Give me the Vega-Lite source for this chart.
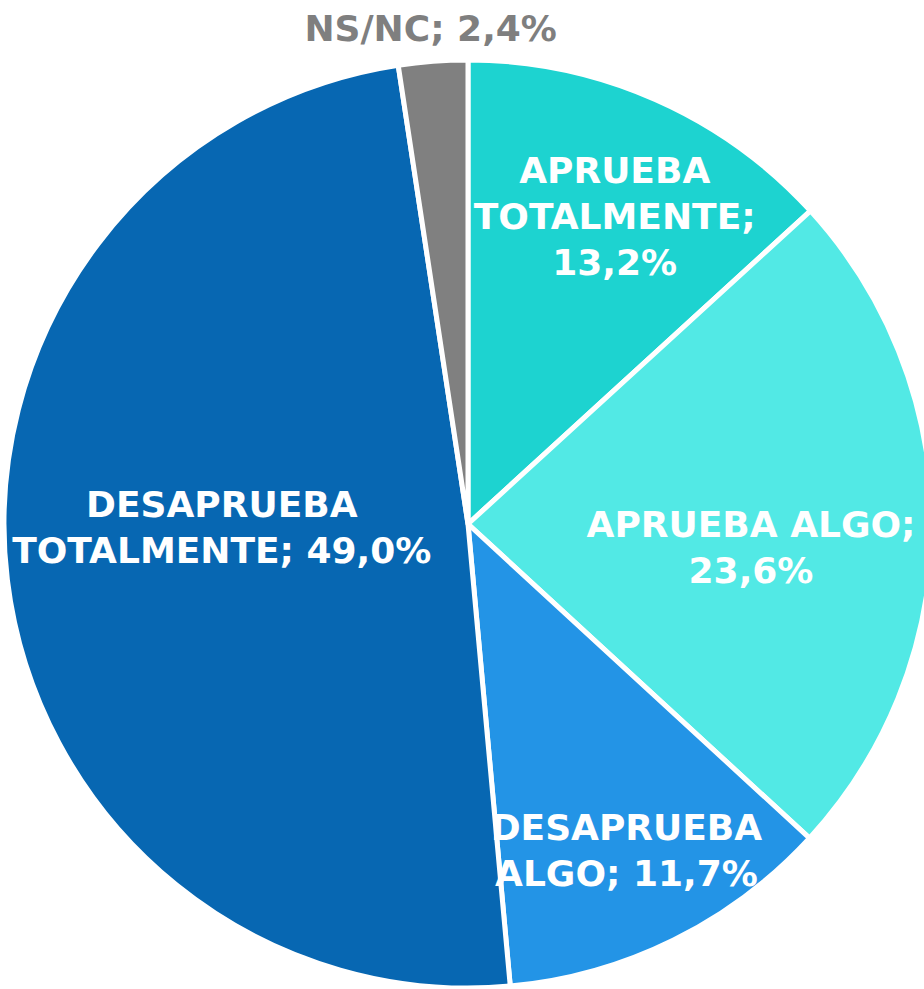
{
  "$schema": "https://vega.github.io/schema/vega-lite/v6.json",
  "width": 912,
  "height": 930,
  "autosize": {"type": "none"},
  "padding": {"left": 12, "top": 59, "right": 0, "bottom": 0},
  "background": "white",
  "config": {"view": {"stroke": null}},
  "data": {
    "values": [
      {"idx": 1, "cat": "APRUEBA TOTALMENTE", "pct": 13.2, "label": "APRUEBA\nTOTALMENTE;\n13,2%"},
      {"idx": 2, "cat": "APRUEBA ALGO", "pct": 23.6, "label": "APRUEBA ALGO;\n23,6%"},
      {"idx": 3, "cat": "DESAPRUEBA ALGO", "pct": 11.7, "label": "DESAPRUEBA\nALGO; 11,7%"},
      {"idx": 4, "cat": "DESAPRUEBA TOTALMENTE", "pct": 49.0, "label": "DESAPRUEBA\nTOTALMENTE; 49,0%"},
      {"idx": 5, "cat": "NS/NC", "pct": 2.4, "label": "NS/NC; 2,4%"}
    ]
  },
  "encoding": {
    "theta": {"field": "pct", "type": "quantitative", "stack": true},
    "order": {"field": "idx", "type": "quantitative"},
    "detail": {"field": "cat", "type": "nominal"}
  },
  "layer": [
    {
      "mark": {"type": "arc", "outerRadius": 464, "stroke": "white", "strokeWidth": 5, "strokeJoin": "round"},
      "encoding": {
        "color": {
          "field": "cat",
          "type": "nominal",
          "scale": {
            "domain": ["APRUEBA TOTALMENTE", "APRUEBA ALGO", "DESAPRUEBA ALGO", "DESAPRUEBA TOTALMENTE", "NS/NC"],
            "range": ["#1DD3D0", "#52E9E5", "#2394E6", "#0767B2", "#808080"]
          },
          "legend": null
        }
      }
    },
    {
      "mark": {"type": "text", "radius": 339, "dx": 10, "dy": -42, "font": "DejaVu Sans", "fontWeight": "bold", "fontSize": 36, "fill": "white", "align": "center", "baseline": "middle", "lineHeight": 46, "lineBreak": "\n"},
      "encoding": {"text": {"condition": {"test": "datum.cat === 'APRUEBA TOTALMENTE'", "field": "label"}, "value": ""}}
    },
    {
      "mark": {"type": "text", "radius": 283, "dx": 0, "dy": 2, "font": "DejaVu Sans", "fontWeight": "bold", "fontSize": 36, "fill": "white", "align": "center", "baseline": "middle", "lineHeight": 46, "lineBreak": "\n"},
      "encoding": {"text": {"condition": {"test": "datum.cat === 'APRUEBA ALGO'", "field": "label"}, "value": ""}}
    },
    {
      "mark": {"type": "text", "radius": 362, "dx": -2, "dy": -20, "font": "DejaVu Sans", "fontWeight": "bold", "fontSize": 36, "fill": "white", "align": "center", "baseline": "middle", "lineHeight": 46, "lineBreak": "\n"},
      "encoding": {"text": {"condition": {"test": "datum.cat === 'DESAPRUEBA ALGO'", "field": "label"}, "value": ""}}
    },
    {
      "mark": {"type": "text", "radius": 246, "dx": -2, "dy": -48, "font": "DejaVu Sans", "fontWeight": "bold", "fontSize": 36, "fill": "white", "align": "center", "baseline": "middle", "lineHeight": 46, "lineBreak": "\n"},
      "encoding": {"text": {"condition": {"test": "datum.cat === 'DESAPRUEBA TOTALMENTE'", "field": "label"}, "value": ""}}
    },
    {
      "mark": {"type": "text", "radius": 495, "dx": 0, "dy": 0, "font": "DejaVu Sans", "fontWeight": "bold", "fontSize": 36, "fill": "#7F7F7F", "align": "center", "baseline": "middle", "lineHeight": 46, "lineBreak": "\n"},
      "encoding": {"text": {"condition": {"test": "datum.cat === 'NS/NC'", "field": "label"}, "value": ""}}
    }
  ]
}
